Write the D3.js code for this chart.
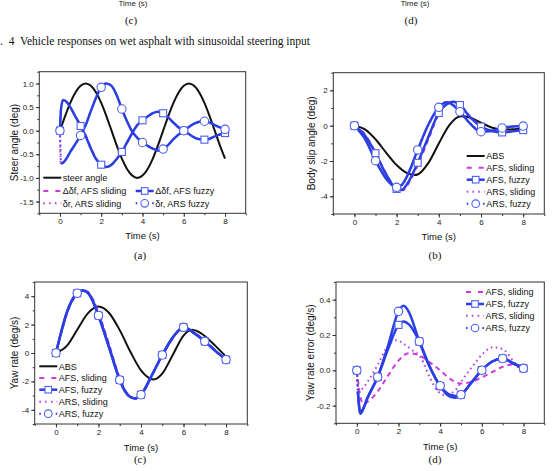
<!DOCTYPE html>
<html>
<head>
<meta charset="utf-8">
<script src="https://cdn.jsdelivr.net/npm/d3@7"></script>
<style>
body{margin:0;background:#fff}
svg{display:block}
</style>
</head>
<body>
<div id="fig"></div>
<script>
// ---- data ----
const timeTicks = [0, 2, 4, 6, 8]
const aYTicks = [-1.5, -1, -0.5, 0, 0.5, 1]
const bYTicks = [-4, -2, 0, 2]
const cYTicks = [-4, -2, 0, 2, 4]
const dYTicks = [-0.2, 0, 0.2, 0.4]

// (a) steer angles
const aSteer = [[0,0],[0.25,0.31],[0.5,0.59],[0.75,0.81],[1,0.95],[1.25,1.0],[1.5,0.95],[1.75,0.81],[2,0.59],[2.25,0.31],[2.5,0],[2.75,-0.31],[3,-0.59],[3.25,-0.81],[3.5,-0.95],[3.75,-1.0],[4,-0.95],[4.25,-0.81],[4.5,-0.59],[4.75,-0.31],[5,0],[5.25,0.31],[5.5,0.59],[5.75,0.81],[6,0.95],[6.25,1.0],[6.5,0.95],[6.75,0.81],[7,0.59],[7.25,0.31],[7.5,0],[7.75,-0.31],[8,-0.59]]
const aDfFuzzy = [[0,0],[0.05,0.45],[0.15,0.65],[0.3,0.62],[0.5,0.5],[0.75,0.3],[1,0.1],[1.25,-0.12],[1.5,-0.38],[1.75,-0.6],[2,-0.72],[2.25,-0.77],[2.5,-0.72],[2.75,-0.6],[3,-0.45],[3.25,-0.25],[3.5,-0.05],[3.75,0.12],[4,0.22],[4.25,0.3],[4.5,0.37],[4.75,0.4],[5,0.37],[5.25,0.28],[5.5,0.17],[5.75,0.07],[6,0],[6.25,-0.07],[6.5,-0.14],[6.75,-0.18],[7,-0.19],[7.25,-0.17],[7.5,-0.12],[7.75,-0.08],[8,-0.05]]
const aDfSliding = [[0,0],[0.05,0.44],[0.15,0.65],[0.3,0.62],[0.5,0.5],[0.75,0.31],[1,0.11],[1.25,-0.1],[1.5,-0.36],[1.75,-0.59],[2,-0.72],[2.25,-0.77],[2.5,-0.72],[2.75,-0.6],[3,-0.45],[3.25,-0.25],[3.5,-0.05],[3.75,0.12],[4,0.22],[4.25,0.3],[4.5,0.37],[4.75,0.4],[5,0.37],[5.25,0.28],[5.5,0.17],[5.75,0.07],[6,0],[6.25,-0.07],[6.5,-0.14],[6.75,-0.18],[7,-0.19],[7.25,-0.17],[7.5,-0.12],[7.75,-0.08],[8,-0.05]]
const aDrFuzzy = [[0,0],[0.05,-0.7],[0.15,-0.68],[0.3,-0.6],[0.5,-0.45],[0.75,-0.28],[1,-0.1],[1.25,0.12],[1.5,0.42],[1.75,0.7],[2,0.92],[2.25,1.0],[2.5,0.95],[2.75,0.75],[3,0.46],[3.25,0.2],[3.5,-0.02],[3.75,-0.15],[4,-0.25],[4.25,-0.32],[4.5,-0.38],[4.75,-0.42],[5,-0.39],[5.25,-0.3],[5.5,-0.18],[5.75,-0.08],[6,0],[6.25,0.08],[6.5,0.15],[6.75,0.19],[7,0.2],[7.25,0.17],[7.5,0.12],[7.75,0.07],[8,0.03]]
const aDrSliding = [[0,0],[0.04,-0.7],[0.15,-0.68],[0.3,-0.6],[0.5,-0.45],[0.75,-0.28],[1,-0.1],[1.25,0.13],[1.5,0.43],[1.75,0.71],[2,0.92],[2.25,1.0],[2.5,0.95],[2.75,0.75],[3,0.46],[3.25,0.2],[3.5,-0.02],[3.75,-0.15],[4,-0.25],[4.25,-0.32],[4.5,-0.38],[4.75,-0.42],[5,-0.39],[5.25,-0.3],[5.5,-0.18],[5.75,-0.08],[6,0],[6.25,0.08],[6.5,0.15],[6.75,0.19],[7,0.2],[7.25,0.17],[7.5,0.12],[7.75,0.07],[8,0.03]]

// (b) body slip angle
const bABS = [[0,0],[0.5,-0.21],[1,-0.77],[1.5,-1.52],[2,-2.23],[2.5,-2.69],[2.85,-2.79],[3,-2.76],[3.5,-2.12],[4,-1.01],[4.5,0.03],[5.05,0.53],[5.5,0.45],[6,0.17],[6.5,-0.1],[7,-0.22],[7.5,-0.2],[8,-0.14]]
const bAFSSliding = [[0,0],[0.5,-0.5],[1,-1.5],[1.5,-2.7],[2,-3.55],[2.3,-3.65],[2.6,-3.2],[3,-2.25],[3.5,-0.8],[4,0.65],[4.5,1.32],[4.75,1.35],[5,1.2],[5.5,0.5],[6,-0.02],[6.5,-0.28],[7,-0.37],[7.5,-0.32],[8,-0.25]]
const bAFSFuzzy = [[0,0],[0.5,-0.55],[1,-1.56],[1.5,-2.75],[2,-3.58],[2.25,-3.62],[2.5,-3.3],[3,-2.1],[3.5,-0.65],[4,0.72],[4.5,1.3],[4.7,1.35],[5,1.17],[5.5,0.45],[6,-0.05],[6.5,-0.3],[7,-0.38],[7.5,-0.32],[8,-0.25]]
const bARSSliding = [[0,0],[0.5,-0.7],[1,-1.9],[1.5,-2.95],[2,-3.45],[2.25,-3.35],[2.5,-2.9],[3,-1.45],[3.5,0],[4,1.05],[4.4,1.35],[5,0.85],[5.5,0.12],[6,-0.3],[6.5,-0.28],[7,-0.13],[7.5,-0.05],[8,-0.02]]
const bARSFuzzy = [[0,0],[0.5,-0.75],[1,-1.98],[1.5,-3.0],[2,-3.49],[2.25,-3.35],[2.5,-2.85],[3,-1.37],[3.5,0.05],[4,1.04],[4.4,1.32],[5,0.79],[5.5,0.1],[6,-0.34],[6.5,-0.3],[7,-0.13],[7.5,-0.05],[8,-0.02]]

// (c) yaw rate
const cABS = [[0,0],[0.5,0.48],[1,1.64],[1.5,2.79],[2,3.27],[2.5,2.82],[3,1.61],[3.5,0.09],[4,-1.22],[4.6,-1.86],[5,-1.45],[5.5,-0.12],[6,1.22],[6.4,1.63],[7,1.2],[7.5,0.5],[8,-0.26]]
const cAFSSliding = [[0,0],[0.25,1.4],[0.5,2.7],[0.75,3.6],[1,4.15],[1.25,4.4],[1.5,4.3],[1.75,3.75],[2,2.85],[2.5,0.6],[3,-1.75],[3.25,-2.6],[3.5,-3.05],[3.75,-3.2],[4,-2.95],[4.5,-1.65],[5,-0.2],[5.5,1.05],[6,1.8],[6.5,1.45],[7,0.85],[7.5,0.15],[8,-0.45]]
const cAFSFuzzy = [[0,0],[0.25,1.5],[0.5,2.8],[0.75,3.7],[1,4.21],[1.25,4.4],[1.5,4.25],[1.75,3.6],[2,2.64],[2.5,0.4],[3,-1.9],[3.25,-2.7],[3.5,-3.1],[3.75,-3.2],[4,-2.94],[4.5,-1.6],[5,-0.14],[5.5,1.1],[6,1.81],[6.5,1.4],[7,0.82],[7.5,0.15],[8,-0.47]]
const cARSSliding = [[0,0],[0.25,1.45],[0.5,2.75],[0.75,3.65],[1,4.18],[1.25,4.4],[1.5,4.28],[1.75,3.7],[2,2.75],[2.5,0.5],[3,-1.8],[3.25,-2.65],[3.5,-3.08],[3.75,-3.2],[4,-2.95],[4.5,-1.62],[5,-0.17],[5.5,1.08],[6,1.8],[6.5,1.42],[7,0.84],[7.5,0.15],[8,-0.46]]
const cARSFuzzy = [[0,0],[0.25,1.5],[0.5,2.8],[0.75,3.7],[1,4.21],[1.25,4.4],[1.5,4.25],[1.75,3.6],[2,2.64],[2.5,0.4],[3,-1.9],[3.25,-2.7],[3.5,-3.1],[3.75,-3.2],[4,-2.94],[4.5,-1.6],[5,-0.14],[5.5,1.1],[6,1.81],[6.5,1.4],[7,0.82],[7.5,0.15],[8,-0.47]]

// (d) yaw rate error
const dAFSSliding = [[0,0],[0.1,-0.1],[0.3,-0.19],[0.5,-0.18],[1,-0.12],[1.5,-0.03],[2,0.055],[2.5,0.097],[3,0.085],[3.5,0.045],[4,0],[4.5,-0.05],[5,-0.075],[5.5,-0.065],[6,-0.04],[6.5,-0.01],[7,0.02],[7.5,0.033],[8,0.02]]
const dAFSFuzzy = [[0,0],[0.05,-0.12],[0.17,-0.245],[0.3,-0.22],[0.5,-0.16],[1,-0.038],[1.5,0.12],[2,0.257],[2.25,0.277],[2.5,0.26],[3,0.163],[3.5,0.02],[4,-0.09],[4.5,-0.15],[4.75,-0.155],[5,-0.138],[5.5,-0.07],[6,0.001],[6.5,0.05],[7,0.067],[7.5,0.04],[8,0.011]]
const dARSSliding = [[0,0],[0.1,-0.12],[0.3,-0.1],[0.6,-0.05],[1,0.03],[1.5,0.14],[1.9,0.17],[2.25,0.15],[2.6,0.12],[3.1,0.066],[3.5,-0.04],[3.9,-0.12],[4.25,-0.14],[4.75,-0.11],[5.15,-0.04],[5.6,0.03],[6.1,0.1],[6.5,0.13],[7,0.12],[7.5,0.055],[7.9,0],[8,-0.005]]
const dARSFuzzy = [[0,0],[0.05,-0.12],[0.17,-0.245],[0.3,-0.22],[0.5,-0.16],[1,-0.038],[1.5,0.14],[2,0.334],[2.25,0.366],[2.5,0.33],[3,0.163],[3.5,0.02],[4,-0.087],[4.5,-0.14],[4.75,-0.145],[5,-0.138],[5.5,-0.07],[6,0.001],[6.5,0.05],[7,0.067],[7.5,0.04],[8,0.011]]

// ---- styles ----
const BLACK = "#111", BLUE = "#2a3fe2", MARK = "#4d5ff0", MAG = "#cc3be0", MAG2 = "#b642e6"
const SANS = "Arial, 'Liberation Sans', sans-serif"
const SERIF = "'Times New Roman', 'Liberation Serif', serif"

const st = {
  black:   {color: BLACK, width: 2},
  dashed:  {color: MAG, width: 2, dash: "5,4"},
  dotted:  {color: MAG2, width: 2, dash: "1.6,3.4"},
  fuzzySq: {color: BLUE, width: 2.5, marker: "square"},
  fuzzyCi: {color: BLUE, width: 2.5, marker: "circle"}
}

const panels = [
  {left: 39.3, right: 245.7, top: 71.7, bottom: 213.3, yDomain: [-1.75, 1.25], yTicks: aYTicks, minor: 0.25, fmt: ".1f",
   ylabel: "Steer angle (deg)", ylabelX: 14, timeY: 239, cap: "(a)", capX: 140, capY: 259,
   series: [
     {data: aSteer, s: st.black}, {data: aDfSliding, s: st.dashed}, {data: aDrSliding, s: st.dotted},
     {data: aDfFuzzy, s: st.fuzzySq}, {data: aDrFuzzy, s: st.fuzzyCi, dotStart: true}],
   legend: [
     {x: 43.3, y: 177.7, label: "steer angle", s: st.black},
     {x: 43.3, y: 191, label: "\u0394\u03b4f, AFS sliding", s: st.dashed},
     {x: 135.7, y: 191, label: "\u0394\u03b4f, AFS fuzzy", s: st.fuzzySq},
     {x: 43.3, y: 203.3, label: "\u03b4r, ARS sliding", s: st.dotted},
     {x: 135.7, y: 203.3, label: "\u03b4r, ARS fuzzy", s: st.fuzzyCi, dots: true}]},
  {left: 333.3, right: 544.3, top: 72.7, bottom: 214, yDomain: [-5, 3], yTicks: bYTicks, minor: 1, fmt: "d",
   ylabel: "Body slip angle (deg)", ylabelX: 311.5, timeY: 240, cap: "(b)", capX: 435, capY: 259,
   series: [
     {data: bABS, s: st.black}, {data: bAFSSliding, s: st.dashed}, {data: bARSSliding, s: st.dotted},
     {data: bAFSFuzzy, s: st.fuzzySq}, {data: bARSFuzzy, s: st.fuzzyCi}],
   legend: [
     {x: 466.7, y: 156, label: "ABS", s: st.black},
     {x: 466.7, y: 167.7, label: "AFS, sliding", s: st.dashed},
     {x: 466.7, y: 179.7, label: "AFS, fuzzy", s: st.fuzzySq},
     {x: 466.7, y: 191.7, label: "ARS, sliding", s: st.dotted},
     {x: 466.7, y: 203.7, label: "ARS, fuzzy", s: st.fuzzyCi, dots: true}]},
  {left: 34.7, right: 247.3, top: 282, bottom: 424, yDomain: [-5, 5], yTicks: cYTicks, minor: 1, fmt: "d",
   ylabel: "Yaw rate (deg/s)", ylabelX: 14, timeY: 450.5, cap: "(c)", capX: 140, capY: 463,
   series: [
     {data: cABS, s: st.black}, {data: cAFSSliding, s: st.dashed}, {data: cARSSliding, s: st.dotted},
     {data: cAFSFuzzy, s: st.fuzzySq}, {data: cARSFuzzy, s: st.fuzzyCi}],
   legend: [
     {x: 39.3, y: 366.3, label: "ABS", s: st.black},
     {x: 39.3, y: 378, label: "AFS, sliding", s: st.dashed},
     {x: 39.3, y: 389.7, label: "AFS, fuzzy", s: st.fuzzySq},
     {x: 39.3, y: 401.7, label: "ARS, sliding", s: st.dotted},
     {x: 39.3, y: 413.7, label: "ARS, fuzzy", s: st.fuzzyCi, dots: true}]},
  {left: 336, right: 544.3, top: 282, bottom: 423.3, yDomain: [-0.3, 0.5], yTicks: dYTicks, minor: 0.1, fmt: ".1f",
   ylabel: "Yaw rate error (deg/s)", ylabelX: 310.7, timeY: 450, cap: "(d)", capX: 435, capY: 463,
   series: [
     {data: dAFSSliding, s: st.dashed}, {data: dARSSliding, s: st.dotted},
     {data: dAFSFuzzy, s: st.fuzzySq, dotStart: true}, {data: dARSFuzzy, s: st.fuzzyCi, dotStart: true}],
   legend: [
     {x: 466, y: 292, label: "AFS, sliding", s: st.dashed},
     {x: 466, y: 304, label: "AFS, fuzzy", s: st.fuzzySq},
     {x: 466, y: 315.7, label: "ARS, sliding", s: st.dotted},
     {x: 466, y: 328, label: "ARS, fuzzy", s: st.fuzzyCi, dots: true}]}
]

drawFigure("#fig")

function drawFigure(id){
  d3.select(id).html("")
  const svg = d3.select(id).append("svg").attr("width", 553).attr("height", 471)
  svg.append("rect").attr("width", 553).attr("height", 471).attr("fill", "#fff")
  addHeader(svg)
  panels.forEach(p => drawPanel(svg, p))
}

function addHeader(svg){
  // bottom of the previous figure, cut by the page top
  ;[[133, "Time (s)"], [415, "Time (s)"]].forEach(([x, t]) =>
    svg.append("text").attr("x", x).attr("y", 6).attr("text-anchor", "middle")
      .attr("font-family", SANS).attr("font-size", "8px").attr("fill", "#222").text(t))
  ;[[131, "(c)"], [411, "(d)"]].forEach(([x, t]) =>
    svg.append("text").attr("x", x).attr("y", 24).attr("text-anchor", "middle")
      .attr("font-family", SERIF).attr("font-size", "11px").attr("fill", "#111").text(t))
  svg.append("text").attr("x", 0).attr("y", 45).attr("font-family", SERIF).attr("font-size", "11.5px")
    .attr("fill", "#111").attr("xml:space", "preserve").text(".  4  Vehicle responses on wet asphalt with sinusoidal steering input")
}

function tickFmt(f){
  return d => d3.format(f)(d).replace("\u2212", "-")
}

function drawPanel(svg, p){
  const x = d3.scaleLinear().domain([-1, 9]).range([p.left, p.right])
  const y = d3.scaleLinear().domain(p.yDomain).range([p.bottom, p.top])

  addAxes(svg, p, x, y)
  p.series.forEach(sr => addLine(svg, x, y, sr))
  p.series.filter(sr => sr.s.marker === "square").forEach(sr => addMarkers(svg, x, y, sr))
  p.series.filter(sr => sr.s.marker === "circle").forEach(sr => addMarkers(svg, x, y, sr))
  addLegend(svg, p.legend)
  addLabels(svg, p)
}

function addAxes(svg, p, x, y){
  const xMinor = d3.range(-1, 9.01, 1)
  const yMinor = d3.range(p.yDomain[0], p.yDomain[1] + 1e-6, p.minor)

  svg.append("g").attr("transform", `translate(0,${p.bottom})`)
    .call(d3.axisBottom(x).tickValues(xMinor).tickSize(2).tickFormat(""))
    .call(g => g.select(".domain").remove())
  svg.append("g").attr("transform", `translate(0,${p.bottom})`)
    .call(d3.axisBottom(x).tickValues(timeTicks).tickSize(3.5).tickPadding(2).tickFormat(tickFmt("d")))
    .call(g => g.select(".domain").remove())

  svg.append("g").attr("transform", `translate(${p.left},0)`)
    .call(d3.axisLeft(y).tickValues(yMinor).tickSize(2).tickFormat(""))
    .call(g => g.select(".domain").remove())
  svg.append("g").attr("transform", `translate(${p.left},0)`)
    .call(d3.axisLeft(y).tickValues(p.yTicks).tickSize(3.5).tickPadding(2).tickFormat(tickFmt(p.fmt)))
    .call(g => g.select(".domain").remove())

  svg.selectAll(".tick line").attr("stroke", "#333")
  svg.selectAll(".tick text").attr("font-family", SANS).attr("font-size", "8px").attr("fill", "#222")

  svg.append("rect").attr("x", p.left).attr("y", p.top)
    .attr("width", p.right - p.left).attr("height", p.bottom - p.top)
    .attr("fill", "none").attr("stroke", "#333").attr("stroke-width", 1)
}

function addLine(svg, x, y, sr){
  const line = d3.line().x(d => x(d[0])).y(d => y(d[1])).curve(d3.curveMonotoneX)
  const data = sr.dotStart ? sr.data.slice(1) : sr.data
  svg.append("path").datum(data).attr("fill", "none").attr("stroke", sr.s.color)
    .attr("stroke-width", sr.s.width).attr("stroke-dasharray", sr.s.dash || null)
    .attr("stroke-linejoin", "round").attr("d", line)
  if(sr.dotStart){
    svg.append("path").datum(sr.data.slice(0, 2)).attr("fill", "none").attr("stroke", "#5a3ee6")
      .attr("stroke-width", 2).attr("stroke-dasharray", "1.6,3").attr("d", d3.line().x(d => x(d[0])).y(d => y(d[1])))
  }
}

function addMarkers(svg, x, y, sr){
  const pts = sr.data.filter(d => Number.isInteger(d[0]))
  if(sr.s.marker === "square"){
    svg.append("g").selectAll("rect").data(pts).enter().append("rect")
      .attr("x", d => x(d[0]) - 3.5).attr("y", d => y(d[1]) - 3.5)
      .attr("width", 7).attr("height", 7)
      .attr("fill", "#fff").attr("stroke", MARK).attr("stroke-width", 1.1)
  } else {
    svg.append("g").selectAll("circle").data(pts).enter().append("circle")
      .attr("cx", d => x(d[0])).attr("cy", d => y(d[1])).attr("r", 4.2)
      .attr("fill", "#fff").attr("stroke", MARK).attr("stroke-width", 1.1)
  }
}

function addLegend(svg, items){
  const len = 18
  items.forEach(it => {
    const g = svg.append("g")
    if(it.dots){
      g.append("line").attr("x1", it.x).attr("x2", it.x + len).attr("y1", it.y).attr("y2", it.y)
        .attr("stroke", BLUE).attr("stroke-width", 2).attr("stroke-dasharray", "1.6,6.6")
    } else {
      g.append("line").attr("x1", it.x).attr("x2", it.x + len).attr("y1", it.y).attr("y2", it.y)
        .attr("stroke", it.s.color).attr("stroke-width", it.s.width)
        .attr("stroke-dasharray", it.s.dash ? (it.s === st.dashed ? "5,7" : "1.6,4.2") : null)
    }
    const cx = it.x + len / 2
    if(it.s.marker === "square"){
      g.append("rect").attr("x", cx - 3.3).attr("y", it.y - 3.3).attr("width", 6.6).attr("height", 6.6)
        .attr("fill", "#fff").attr("stroke", MARK).attr("stroke-width", 1.1)
    } else if(it.s.marker === "circle"){
      g.append("circle").attr("cx", cx).attr("cy", it.y).attr("r", 3.8)
        .attr("fill", "#fff").attr("stroke", MARK).attr("stroke-width", 1.1)
    }
    g.append("text").attr("x", it.x + len + 1.5).attr("y", it.y + 3.2)
      .attr("font-family", SANS).attr("font-size", "9px").attr("fill", "#111").text(it.label)
  })
}

function addLabels(svg, p){
  const cx = (p.left + p.right) / 2, cy = (p.top + p.bottom) / 2
  svg.append("text").attr("x", cx).attr("y", p.timeY).attr("text-anchor", "middle")
    .attr("font-family", SANS).attr("font-size", "9.5px").attr("fill", "#111").text("Time (s)")
  svg.append("text").attr("transform", `translate(${p.ylabelX + 3.5},${cy}) rotate(-90)`)
    .attr("text-anchor", "middle").attr("font-family", SANS).attr("font-size", "10px")
    .attr("fill", "#111").text(p.ylabel)
  svg.append("text").attr("x", p.capX).attr("y", p.capY).attr("text-anchor", "middle")
    .attr("font-family", SERIF).attr("font-size", "11px").attr("fill", "#111").text(p.cap)
}
</script>
</body>
</html>
